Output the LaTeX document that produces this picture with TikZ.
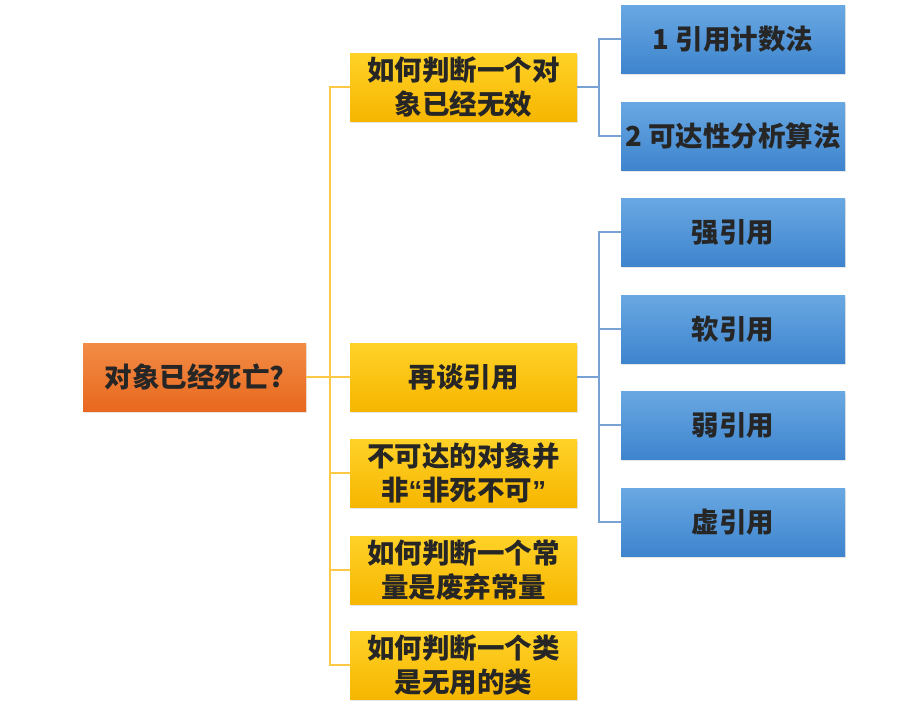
\documentclass[tikz,border=0pt]{standalone}
\usepackage{fontspec}
\setmainfont{Noto Sans CJK SC}
\newfontfamily\latinfont{Liberation Sans}
\usetikzlibrary{shadows}
\definecolor{roottop}{RGB}{242,140,70}
\definecolor{rootbot}{RGB}{232,104,30}
\definecolor{topictop}{RGB}{255,210,40}
\definecolor{topicbot}{RGB}{246,182,0}
\definecolor{leaftop}{RGB}{105,168,226}
\definecolor{leafbot}{RGB}{62,132,206}
\definecolor{topicline}{RGB}{252,200,70}
\definecolor{leafline}{RGB}{120,162,212}
\newcommand{\mapnode}[5]{%
  \node[#4] (#1) at (#2,#3) {#5};
}
\newcommand{\openq}{{\latinfont\bfseries “}}
\newcommand{\closeq}{{\latinfont\bfseries ”}}

\begin{document}
\begin{tikzpicture}[x=1pt, y=-1pt,
    card/.style={minimum height=68pt, inner sep=0pt, align=center,
      font=\fontsize{27.5}{34}\selectfont\bfseries, text=black!85,
      drop shadow={shadow xshift=1pt, shadow yshift=-2pt, opacity=0.2}},
    rootcard/.style={card, minimum width=223pt, top color=roottop, bottom color=rootbot},
    topiccard/.style={card, minimum width=227pt, top color=topictop, bottom color=topicbot},
    leafcard/.style={card, minimum width=224pt, top color=leaftop, bottom color=leafbot},
    topicedge/.style={draw=topicline, line width=1.5pt},
    leafedge/.style={draw=leafline, line width=1.2pt}]
    \useasboundingbox (0,0) rectangle (906,710);
    % Root
    \mapnode{root}{194.5}{377}{rootcard}{对象已经死亡?}
    % Topics
    \mapnode{judge}{463.5}{87}{topiccard}{如何判断一个对\\象已经无效}
    \mapnode{refs}{463.5}{377}{topiccard}{再谈引用}
    \mapnode{unreach}{463.5}{473}{topiccard}{不可达的对象并\\非\openq 非死不可\closeq}
    \mapnode{const}{463.5}{570}{topiccard}{如何判断一个常\\量是废弃常量}
    \mapnode{klass}{463.5}{665}{topiccard}{如何判断一个类\\是无用的类}
    % Leaves
    \mapnode{count}{733}{39}{leafcard}{1 引用计数法}
    \mapnode{reach}{733}{136}{leafcard}{2 可达性分析算法}
    \mapnode{strong}{733}{232}{leafcard}{强引用}
    \mapnode{soft}{733}{329}{leafcard}{软引用}
    \mapnode{weak}{733}{425}{leafcard}{弱引用}
    \mapnode{phantom}{733}{522}{leafcard}{虚引用}
    % Edges
    \coordinate (trunk) at (330,377);
    \coordinate (fork1) at (599,87);
    \coordinate (fork2) at (599,377);
    \foreach \t in {judge,refs,unreach,const,klass}
      \draw[topicedge] (root.east) -- (trunk) |- (\t.west);
    \foreach \l in {count,reach}
      \draw[leafedge] (judge.east) -- (fork1) |- (\l.west);
    \foreach \l in {strong,soft,weak,phantom}
      \draw[leafedge] (refs.east) -- (fork2) |- (\l.west);
  \end{tikzpicture}
\end{document}
